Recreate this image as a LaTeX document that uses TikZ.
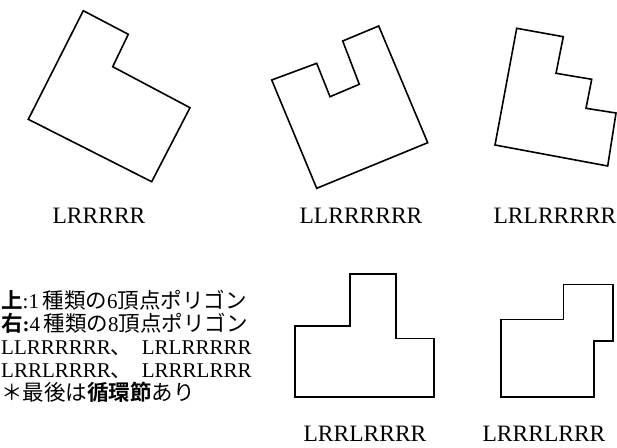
\documentclass[tikz,border=0pt]{standalone}
\usepackage{fontspec}
\setmainfont{Liberation Serif}
\newfontfamily\jp{Noto Sans CJK JP}[BoldFont={Noto Sans CJK JP Bold}]
\begin{document}
\begin{tikzpicture}[x=1pt,y=-1pt,
  poly/.style={draw=black, line width=1.6pt, line join=miter},
  lab/.style={anchor=base, inner sep=0pt, font=\fontsize{23.5}{26}\selectfont},
  txt/.style={anchor=base west, inner sep=0pt, font=\fontsize{21}{24}\selectfont},
  jpt/.style={}]
\useasboundingbox (0,0) rectangle (617,447);
% top row polygons
\draw[poly] (83.3,10.7) -- (128.3,34.3) -- (112.7,66.7) -- (190,107.7) -- (151.7,181.7) -- (28.3,119.3) -- cycle;
\draw[poly] (271.7,80) -- (316.7,63.3) -- (330,96.7) -- (359.3,84.3) -- (342.7,41) -- (378.7,26) -- (427.7,142.7) -- (316.7,188.3) -- cycle;
\draw[poly] (516.7,28.3) -- (563.3,36.7) -- (556,73.3) -- (591.7,79.3) -- (586,108.3) -- (616,113) -- (607.7,166) -- (495,145) -- cycle;
% bottom row polygons
\draw[poly] (295,325.7) -- (350,325.7) -- (350,274) -- (396,274) -- (396,338.3) -- (434,338.3) -- (434,396.7) -- (295,396.7) -- cycle;
\draw[poly] (500.7,319.3) -- (563.3,319.3) -- (563.3,284.3) -- (612.7,284.3) -- (612.7,340.7) -- (594,340.7) -- (594,396.7) -- (500.7,396.7) -- cycle;
% labels
\node[lab] (l1) at (99,223) {LRRRRR};
\node[lab] (l2) at (361,223) {LLRRRRRR};
\node[lab] (l3) at (555,223) {LRLRRRRR};
\node[lab] (l4) at (365,441) {LRRLRRRR};
\node[lab] (l5) at (544,441) {LRRRLRRR};
% text block
\newcommand{\jpx}[1]{{\jp\fontsize{21.5}{24}\selectfont #1}}
\node[txt] (t1) at (1,308) {\jpx{\bfseries 上}:1\,\jpx{種類の}6\jpx{頂点ポリゴン}};
\node[txt] (t2) at (1,331) {\jpx{\bfseries 右}\textbf{:}4\,\jpx{種類の}8\jpx{頂点ポリゴン}};
\node[txt] (t3) at (1,354) {LLRRRRRR\jpx{、}\hspace{0.45em}LRLRRRRR};
\node[txt] (t4) at (1,377) {LRRLRRRR\jpx{、}\hspace{0.45em}LRRRLRRR};
\node[txt] (t5) at (1,400) {\jpx{＊最後は\textbf{循環節}あり}};
\end{tikzpicture}
\end{document}
